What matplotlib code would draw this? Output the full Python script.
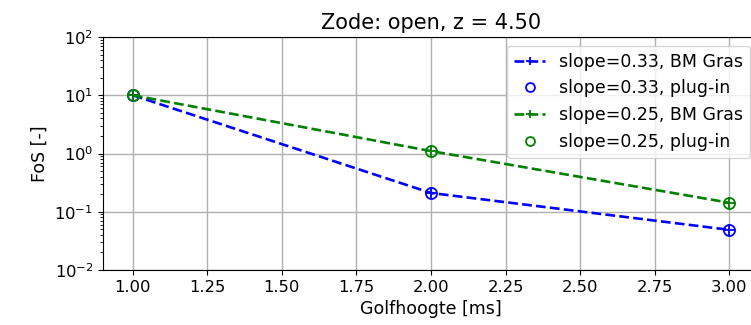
import numpy as np
import matplotlib
matplotlib.use('Agg')
import matplotlib.pyplot as plt
from matplotlib.ticker import LogLocator, NullFormatter

golfhoogte = [1.0, 2.0, 3.0]
fos_033_bm = [10.0, 0.21, 0.049]
fos_033_plug = [10.0, 0.21, 0.049]
fos_025_bm = [10.0, 1.1, 0.143]
fos_025_plug = [10.0, 1.1, 0.143]

plt.rcParams['font.size'] = 12.5
plt.rcParams['xtick.labelsize'] = 11.8
plt.rcParams['ytick.labelsize'] = 11.8

fig = plt.figure(figsize=(7.51, 3.25), dpi=100)
ax = fig.add_axes([103/751, 1 - 270/325, (759 - 103)/751, (270 - 37)/325])

ax.semilogy(golfhoogte, fos_033_bm, '--+', color='blue', lw=1.9, ms=8, mew=1.3,
            label='slope=0.33, BM Gras')
ax.semilogy(golfhoogte, fos_033_plug, 'o', color='blue', mfc='none', ms=8, mew=1.3,
            label='slope=0.33, plug-in')
ax.semilogy(golfhoogte, fos_025_bm, '--+', color='green', lw=1.9, ms=8, mew=1.3,
            label='slope=0.25, BM Gras')
ax.semilogy(golfhoogte, fos_025_plug, 'o', color='green', mfc='none', ms=8, mew=1.3,
            label='slope=0.25, plug-in')

ax.set_xlim(0.9, 3.1)
ax.set_ylim(1e-2, 1e2)
ax.set_xticks(np.arange(1.0, 3.01, 0.25))
ax.yaxis.set_minor_locator(LogLocator(base=10, subs=np.arange(2, 10), numticks=20))
ax.yaxis.set_minor_formatter(NullFormatter())
ax.grid(True, which='major', color='#b0b0b0', lw=1)
ax.set_xlabel('Golfhoogte [ms]')
ax.set_ylabel('FoS [-]')
ax.set_title('Zode: open, z = 4.50', fontsize=15)
ax.legend(loc='upper right', handlelength=1.8, markerscale=0.8)

fig.savefig('out.png', dpi=100)
